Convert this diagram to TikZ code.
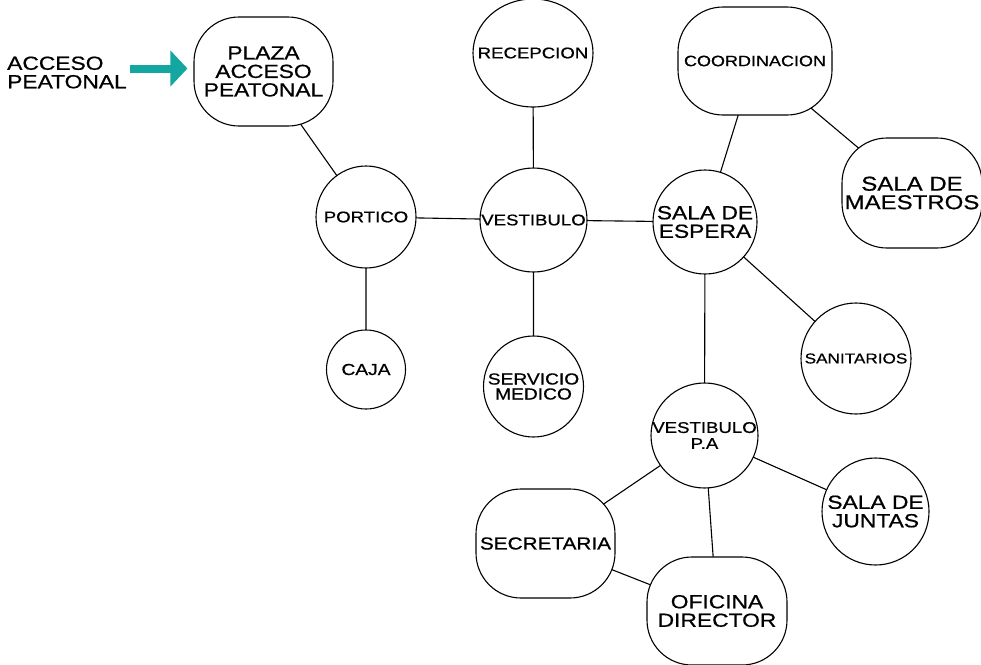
\documentclass[tikz,border=0pt]{standalone}
\usepackage{fontspec}
\setmainfont{Liberation Sans}[FakeStretch=1.2, FakeBold=0.7]
\usetikzlibrary{shapes.geometric,arrows.meta,backgrounds}

\definecolor{verdeacceso}{RGB}{20,166,160}
\newcommand\letrachica{\fontsize{15.5}{16}\selectfont}
\newcommand\letragrande{\fontsize{19}{18.5}\selectfont}

\tikzset{
	espacio/.style={draw, ellipse, fill=white, inner sep=0pt, line width=1.1pt},
	zona/.style={draw, rectangle, rounded corners=45pt, fill=white, inner sep=0pt, align=center, line width=1.1pt},
	rotulo/.style={align=center, inner sep=0pt},
	medida/.style 2 args={minimum width=#1pt, minimum height=#2pt},
	enlace/.style={line width=1.1pt},
	flecha/.style={draw=verdeacceso, line width=8pt, -{Triangle[width=35pt,length=17pt]}}
}

\begin{document}
\begin{tikzpicture}[x=1pt,y=-1pt]
	\useasboundingbox (0,0) rectangle (981,664);
	\node [anchor=west, align=left, inner sep=0pt, font=\letragrande] (acceso) at (7,72.5) {ACCESO\\PEATONAL};
	\node [zona, medida={139}{109}, font=\letragrande] (plaza) at (263.5,71.5) {PLAZA\\ACCESO\\PEATONAL};
	\node [espacio, medida={120}{108}, label={[rotulo, font=\letrachica]center:RECEPCION}] (recepcion) at (533,53) {};
	\node [espacio, medida={100}{102}, label={[rotulo, font=\letrachica]center:PORTICO}] (portico) at (366,217) {};
	\node [espacio, medida={107}{104}, label={[rotulo, font=\letrachica]center:VESTIBULO}] (vestibulo) at (533.5,220) {};
	\node [espacio, medida={79}{79}, label={[rotulo, font=\fontsize{16}{16}\selectfont]center:CAJA}] (caja) at (366,369.5) {};
	\node [espacio, medida={100}{101}, label={[rotulo, font=\fontsize{16}{15}\selectfont]center:SERVICIO\\MEDICO}] (servicio) at (533.5,386.5) {};
	\node [espacio, medida={104}{104}, label={[rotulo, font=\letragrande]center:SALA DE\\ESPERA}] (espera) at (705,222) {};
	\node [zona, medida={154}{108}, font=\fontsize{15}{16}\selectfont] (coordinacion) at (755,61) {COORDINACION};
	\node [zona, medida={140}{110}, font=\fontsize{20}{18.5}\selectfont] (maestros) at (912,193) {SALA DE\\MAESTROS};
	\node [espacio, medida={110}{111}, label={[rotulo, font=\fontsize{14.3}{16}\selectfont]center:SANITARIOS}] (sanitarios) at (856,358.5) {};
	\node [espacio, medida={107}{105}, label={[rotulo, font=\letrachica]center:VESTIBULO\\P.A}] (vestibulopa) at (704.5,435.5) {};
	\node [espacio, medida={107}{107}, label={[rotulo, font=\letragrande]center:SALA DE\\JUNTAS}] (juntas) at (875.5,511.5) {};
	\node [zona, medida={139}{109}, font=\fontsize{17.3}{18}\selectfont] (secretaria) at (545.5,543.5) {SECRETARIA};
	\node [zona, medida={140}{108}, font=\letragrande] (oficina) at (717,611) {OFICINA\\DIRECTOR};
	\draw [flecha, shorten <=3pt, shorten >=6pt] ([yshift=4pt]acceso.east) -- ([yshift=4pt]acceso.east -| plaza.west);
	\begin{scope}[on background layer]
		\draw [enlace] (plaza.center) -- (portico.center) -- (caja.center);
		\draw [enlace] (portico.center) -- (vestibulo.center) -- (espera.center);
		\draw [enlace] (recepcion.center) -- (vestibulo.center) -- (servicio.center);
		\draw [enlace] (coordinacion.center) -- (espera.center) -- (vestibulopa.center);
		\draw [enlace] (coordinacion.center) -- (maestros.center);
		\draw [enlace] (espera.center) -- (sanitarios.center);
		\draw [enlace] (vestibulopa.center) -- (juntas.center);
		\draw [enlace] (vestibulopa.center) -- (oficina.center) -- (secretaria.center) -- (vestibulopa.center);
	\end{scope}
\end{tikzpicture}
\end{document}
